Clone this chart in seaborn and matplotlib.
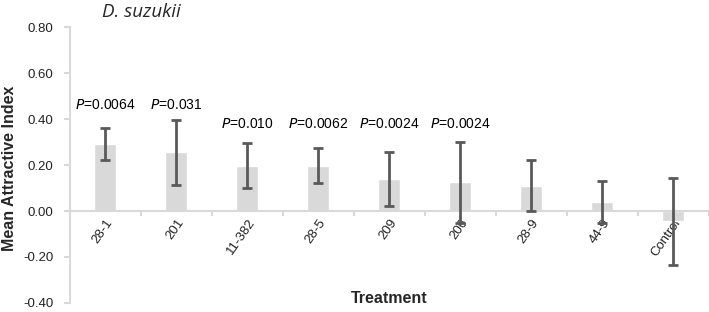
import matplotlib
matplotlib.use("Agg")
import matplotlib.pyplot as plt
import seaborn as sns
import numpy as np

treatments = ["28-1", "201", "11-382", "28-5", "209", "206", "28-9", "44-9", "Control"]
means = [0.29, 0.256, 0.197, 0.197, 0.14, 0.125, 0.11, 0.04, -0.045]
errors = [0.07, 0.142, 0.098, 0.075, 0.118, 0.175, 0.11, 0.09, 0.19]
p_labels = ["0.0064", "0.031", "0.010", "0.0062", "0.0024", "0.0024", "", "", ""]
p_heights = [0.46, 0.46, 0.38, 0.38, 0.38, 0.38, None, None, None]

sns.set_style("white")
plt.rcParams["font.family"] = ["Liberation Sans", "DejaVu Sans"]

fig = plt.figure(figsize=(7.09, 3.12), dpi=100)
ax = fig.add_axes([0.0987, 0.029, 0.901, 0.884])

sns.barplot(x=treatments, y=means, color="#d9d9d9", saturation=1, width=0.31, ax=ax)
ax.errorbar(np.arange(len(treatments)), means, yerr=errors, fmt="none",
            ecolor="#595959", elinewidth=2, capsize=3.5, capthick=2, zorder=5)

for i, (lab, h) in enumerate(zip(p_labels, p_heights)):
    if lab:
        ax.text(i, h, "$\\it{P}$=" + lab, ha="center", va="center", fontsize=10,
                color="black")

ax.set_ylim(-0.4, 0.8)
ax.set_xlim(-0.5, len(treatments) - 0.5)
yt = [-0.4, -0.2, 0.0, 0.2, 0.4, 0.6, 0.8]
ax.set_yticks(yt)
ax.set_yticklabels([f"{v:.2f}" for v in yt], fontsize=9.5)

ax.spines["top"].set_visible(False)
ax.spines["right"].set_visible(False)
ax.spines["bottom"].set_position(("data", 0))
for s in ["left", "bottom"]:
    ax.spines[s].set_color("#d9d9d9")
    ax.spines[s].set_linewidth(1.5)

ax.tick_params(axis="y", left=True, length=4, width=1.5, color="#d9d9d9",
               labelcolor="#222222", pad=8)
ax.tick_params(axis="x", which="major", bottom=False, length=0, pad=4)
ax.set_xticks(np.arange(len(treatments)) + 0.5, minor=True)
ax.tick_params(axis="x", which="minor", bottom=True, length=3.5, width=1.5,
               color="#d9d9d9", direction="out")
for t in ax.get_xticklabels():
    t.set_rotation(55)
    t.set_ha("right")
    t.set_rotation_mode("anchor")
    t.set_fontsize(9.5)
    t.set_color("#222222")

ax.set_xlabel("")
ax.set_ylabel("")
fig.text(0.549, 0.042, "Treatment", ha="center", va="center", fontsize=11.5,
         fontweight="bold")
fig.text(0.013, 0.46, "Mean Attractive Index", ha="center", va="center",
         rotation=90, fontsize=11.5, fontweight="bold")
fig.text(0.144, 0.962, "D. suzukii", ha="left", va="center", fontsize=13.5,
         style="italic", family=["Open Sans", "DejaVu Sans"])

fig.savefig("out.png", dpi=100)
